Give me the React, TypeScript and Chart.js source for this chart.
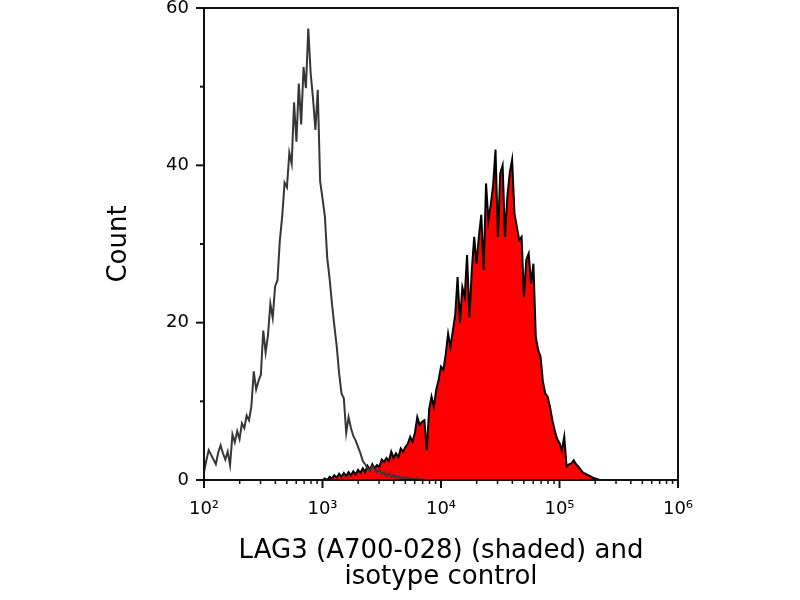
import React, { useEffect, useRef } from "react";
import { Chart, registerables } from "chart.js";

Chart.register(...registerables);

// channels are evenly spaced in log10(fluorescence)
const CHANNEL_STEP = 0.02;
const ISOTYPE_START = 2.0;
const LAG3_START = 3.0;

// isotype control (open histogram), from 10^2.00
const isotypeCounts = [
  1.0, 2.5, 3.8, 3.2, 2.6, 2.0, 3.5, 4.4, 3.4, 2.6,
  3.6, 1.9, 5.8, 4.8, 6.2, 5.2, 7.2, 6.6, 8.2, 7.6,
  9.4, 13.8, 11.5, 12.6, 13.4, 19.0, 16.2, 18.4, 22.4, 20.6,
  24.6, 25.4, 30.5, 33.5, 37.8, 37.2, 41.6, 40.2, 48.0, 43.0,
  50.4, 45.2, 52.5, 49.8, 57.4, 51.7, 48.5, 44.5, 49.6, 38.0,
  35.8, 33.5, 28.2, 25.6, 22.4, 19.6, 17.0, 13.6, 11.0, 10.4,
  6.0, 8.0, 6.6, 5.6, 5.0, 4.2, 3.4, 2.4, 2.0, 1.5,
  1.2, 1.8, 1.4, 1.0, 1.3, 0.8, 1.0, 0.5, 0.8, 0.4,
  0.6, 0.3, 0.5, 0.2, 0.4, 0.2, 0.3, 0.1, 0.2, 0,
  0.2, 0, 0.1, 0, 0, 0,
];

// LAG3 stained (shaded histogram), from 10^3.00
const lag3Counts = [
  0, 0.2, 0, 0.4, 0.2, 0.6, 0.3, 0.8, 0.4, 0.9,
  0.5, 1.0, 0.6, 1.1, 0.7, 1.3, 0.9, 1.5, 1.0, 1.8,
  1.3, 2.0, 1.5, 1.9, 1.7, 2.6, 2.3, 2.8, 2.4, 3.6,
  2.8, 3.4, 2.9, 4.0, 3.6, 4.2, 4.6, 5.5, 4.9, 6.0,
  8.0, 7.0, 7.4, 7.6, 3.8, 9.0, 10.6, 9.3, 11.5, 12.7,
  14.4, 14.0, 16.0, 18.6, 16.9, 19.0, 21.0, 25.8, 20.0, 24.5,
  23.3, 28.6, 20.7, 26.7, 30.9, 27.5, 31.0, 33.7, 26.7, 37.7,
  33.0, 35.0, 37.5, 42.0, 30.9, 39.0, 40.0, 30.9, 36.0, 39.0,
  40.7, 33.9, 32.2, 30.5, 30.9, 23.3, 28.0, 28.8, 25.0, 27.5,
  18.2, 16.5, 15.7, 12.5, 11.0, 10.6, 9.3, 7.6, 6.3, 5.2,
  4.7, 3.8, 5.5, 1.7, 2.0, 2.1, 2.5, 2.0, 1.7, 1.3,
  0.9, 0.8, 0.6, 0.5, 0.3, 0.2, 0.1, 0,
];

const Y_TICKS = [0, 10, 20, 30, 40, 50, 60];
const Y_LABELS = [0, 20, 40, 60];
const X_DECADES = [2, 3, 4, 5, 6];
const X_MINOR = [2, 3, 4, 5, 6, 7, 8, 9];
const SUPERSCRIPT: Record<number, string> = { 2: "²", 3: "³", 4: "⁴", 5: "⁵", 6: "⁶" };

const FONT = "'DejaVu Sans', Verdana, sans-serif";
const AXIS_COLOR = "#111111";

const toPoints = (counts: number[], start: number) =>
  counts.map((c, i) => ({ x: Math.pow(10, start + i * CHANNEL_STEP), y: c }));

const xTickValues = () => {
  const vals: { value: number; major: boolean }[] = [];
  X_DECADES.forEach((d, i) => {
    vals.push({ value: Math.pow(10, d), major: true });
    if (i < X_DECADES.length - 1) {
      X_MINOR.forEach((m) => vals.push({ value: m * Math.pow(10, d), major: false }));
    }
  });
  return vals;
};

// frame + tick marks (major long, minor short)
const axesFrame = {
  id: "axesFrame",
  afterDatasetsDraw(chart: any) {
    const { ctx, chartArea: a, scales } = chart;
    ctx.save();
    ctx.strokeStyle = AXIS_COLOR;
    ctx.lineWidth = 2;
    ctx.strokeRect(a.left, a.top, a.right - a.left, a.bottom - a.top);
    scales.y.ticks.forEach((t: any) => {
      const py = scales.y.getPixelForValue(t.value);
      const len = Y_LABELS.includes(t.value) ? 8 : 4;
      ctx.beginPath();
      ctx.moveTo(a.left - len, py);
      ctx.lineTo(a.left, py);
      ctx.stroke();
    });
    scales.x.ticks.forEach((t: any) => {
      const px = scales.x.getPixelForValue(t.value);
      const len = t.major ? 8 : 4;
      ctx.lineWidth = t.major ? 2 : 1.5;
      ctx.beginPath();
      ctx.moveTo(px, a.bottom);
      ctx.lineTo(px, a.bottom + len);
      ctx.stroke();
    });
    ctx.restore();
  },
};

const App: React.FC = () => {
  const canvasRef = useRef<HTMLCanvasElement | null>(null);

  useEffect(() => {
    const ctx = canvasRef.current?.getContext("2d");
    if (!ctx) return;

    const chart = new Chart(ctx, {
      type: "line",
      data: {
        datasets: [
          {
            label: "isotype control",
            data: toPoints(isotypeCounts, ISOTYPE_START),
            borderColor: "#363636",
            borderWidth: 2,
            pointRadius: 0,
            tension: 0,
            fill: false,
          },
          {
            label: "LAG3 (A700-028)",
            data: toPoints(lag3Counts, LAG3_START),
            borderColor: "#000000",
            backgroundColor: "#ff0000",
            borderWidth: 2,
            pointRadius: 0,
            tension: 0,
            fill: "origin",
          },
        ],
      },
      options: {
        responsive: false,
        animation: false,
        layout: { padding: { top: 8, right: 122, bottom: 0, left: 0 } },
        plugins: {
          legend: { display: false },
          tooltip: { enabled: false },
        },
        scales: {
          x: {
            type: "logarithmic",
            min: 100,
            max: 1000000,
            grid: { display: false, drawTicks: false },
            border: { display: false },
            afterBuildTicks: (scale: any) => {
              scale.ticks = xTickValues();
            },
            afterFit: (scale: any) => {
              scale.height = 120;
              scale.paddingLeft = 0;
              scale.paddingRight = 0;
            },
            ticks: {
              autoSkip: false,
              maxRotation: 0,
              padding: 19,
              color: "#000",
              font: { family: FONT, size: 18 },
              callback: (value: any) => {
                const e = Math.log10(Number(value));
                const r = Math.round(e);
                return Math.abs(e - r) < 1e-6 ? "10" + SUPERSCRIPT[r] : "";
              },
            },
            title: {
              display: true,
              text: ["LAG3 (A700-028) (shaded) and", "isotype control"],
              color: "#000",
              font: { family: FONT, size: 26, lineHeight: 1 },
              padding: { top: 0, bottom: 10 },
            },
          },
          y: {
            type: "linear",
            min: 0,
            max: 60,
            grid: { display: false, drawTicks: false },
            border: { display: false },
            afterBuildTicks: (scale: any) => {
              scale.ticks = Y_TICKS.map((v) => ({ value: v }));
            },
            afterFit: (scale: any) => {
              scale.width = 204;
              scale.paddingTop = 0;
              scale.paddingBottom = 0;
            },
            ticks: {
              padding: 15,
              color: "#000",
              font: { family: FONT, size: 18 },
              callback: (value: any) => (Y_LABELS.includes(Number(value)) ? String(value) : ""),
            },
            title: {
              display: true,
              text: "Count",
              color: "#000",
              font: { family: FONT, size: 26, lineHeight: 1 },
              padding: { top: 106, bottom: 0 },
            },
          },
        },
      },
      plugins: [axesFrame],
    });

    return () => {
      chart.destroy();
    };
  }, []);

  return (
    <div style={{ position: "absolute", left: 0, top: 0, width: 800, height: 600, background: "#fff" }}>
      <canvas ref={canvasRef} width={800} height={600}></canvas>
    </div>
  );
};

export default App;
